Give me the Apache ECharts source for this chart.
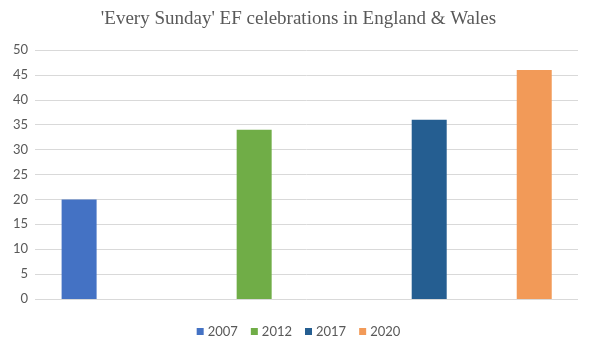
<!DOCTYPE html>
<html><head><meta charset="utf-8">
<script src="https://cdn.jsdelivr.net/npm/echarts@6/dist/echarts.min.js"></script>
<style>html,body{margin:0;padding:0;background:#fff}#c{width:597px;height:355px}</style>
</head><body><div id="c"></div>
<script>
const years = [2007, 2012, 2017, 2020];
const seriesNames = ['2007', '2012', '2017', '2020'];
const values = [20, 34, 36, 46];
const colors = ['#4472C4', '#70AD47', '#255E91', '#F29A58'];
const yTicks = [0, 5, 10, 15, 20, 25, 30, 35, 40, 45, 50];

const chart = echarts.init(document.getElementById('c'));
chart.setOption({
  animation: false,
  backgroundColor: '#fff',
  title: {
    text: "'Every Sunday' EF celebrations in England & Wales",
    left: 'center', top: 5,
    textStyle: { fontFamily: 'Liberation Serif', fontWeight: 'normal', fontSize: 19, color: '#595959' }
  },
  legend: {
    bottom: 12, left: 'center',
    itemWidth: 7, itemHeight: 7, itemGap: 13,
    icon: 'rect',
    textStyle: { fontFamily: 'Lato', fontSize: 13, color: '#595959', padding: [0, 0, 0, -1] },
    data: seriesNames
  },
  grid: { left: 35, right: 19, top: 50, bottom: 56 },
  xAxis: {
    type: 'value', min: 2005.74, max: 2021.25,
    show: false
  },
  yAxis: {
    type: 'value', min: yTicks[0], max: yTicks[yTicks.length - 1], interval: 5,
    axisLine: { show: false }, axisTick: { show: false },
    axisLabel: { fontFamily: 'Lato', fontSize: 13, color: '#595959', margin: 7 },
    splitLine: { lineStyle: { color: '#D9D9D9', width: 1 } }
  },
  series: seriesNames.map((n, i) => ({
    name: n, type: 'bar', stack: 'all', barWidth: 35,
    itemStyle: { color: colors[i] },
    data: [[years[i], values[i]]]
  }))
});
</script></body></html>
